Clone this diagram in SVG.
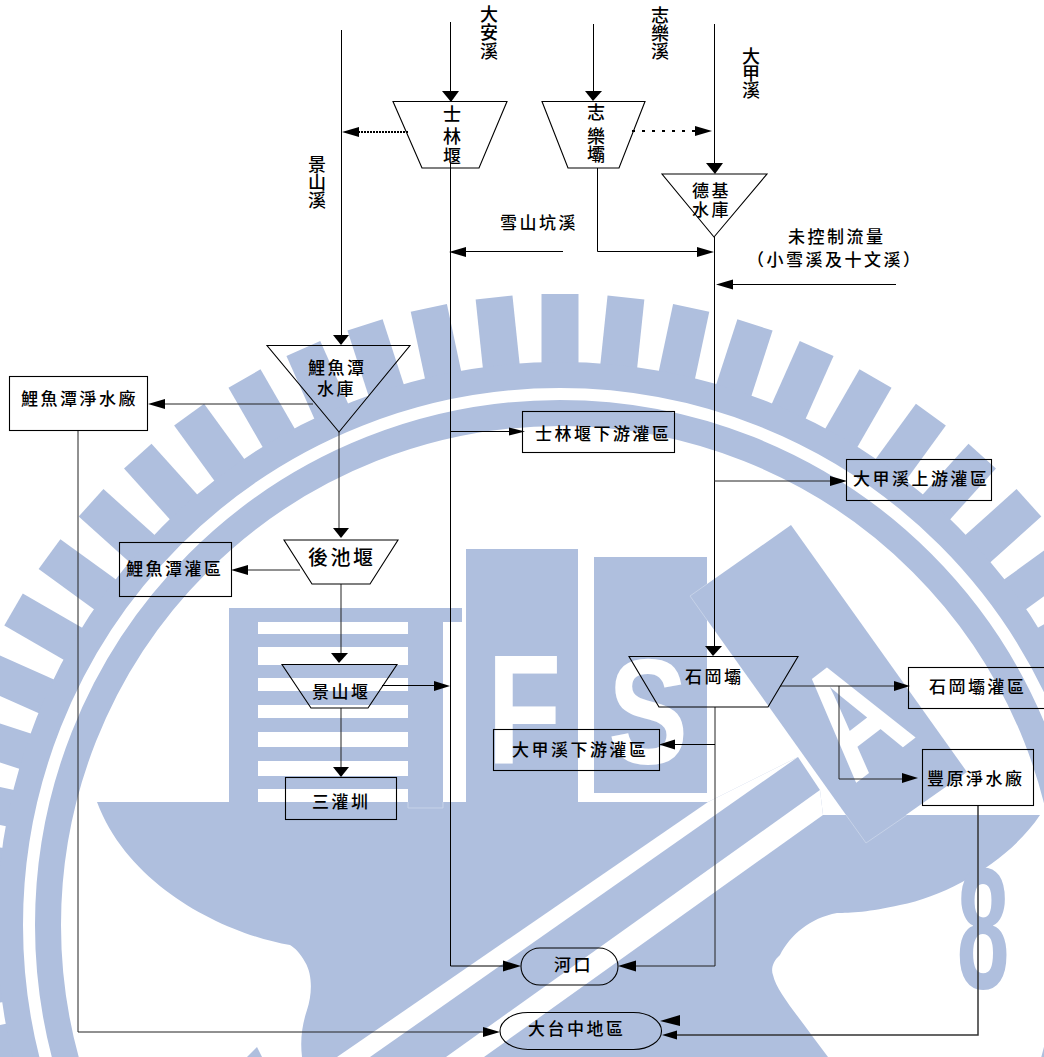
<svg xmlns="http://www.w3.org/2000/svg" width="1044" height="1057" viewBox="0 0 1044 1057">
<style>
.wm{fill:#afbfde}
.wt{fill:#fff}
.ln{fill:none;stroke:#000;stroke-width:1}
.gr{fill:none;stroke:#222;stroke-width:1}
.sh{fill:none;stroke:#000;stroke-width:1.1}
.ah{fill:#000;stroke:none}
.t{font-family:"Noto Sans CJK TC","Noto Sans CJK SC",sans-serif;font-size:17px;font-weight:500;letter-spacing:2.5px;fill:#000}
.v{font-family:"Noto Sans CJK TC","Noto Sans CJK SC",sans-serif;font-size:18px;font-weight:500;fill:#000}
.wl{font-family:"Liberation Sans",Arial,sans-serif;font-weight:700}
</style>
<rect width="1044" height="1057" fill="#fff"/>
<g id="watermark">
<g class="wm">
<rect id="tooth" x="541.5" y="294" width="37" height="70"/>
<rect x="541.5" y="294" width="37" height="70" transform="rotate(6 560 925)"/>
<rect x="541.5" y="294" width="37" height="70" transform="rotate(12 560 925)"/>
<rect x="541.5" y="294" width="37" height="70" transform="rotate(18 560 925)"/>
<rect x="541.5" y="294" width="37" height="70" transform="rotate(24 560 925)"/>
<rect x="541.5" y="294" width="37" height="70" transform="rotate(30 560 925)"/>
<rect x="541.5" y="294" width="37" height="70" transform="rotate(36 560 925)"/>
<rect x="541.5" y="294" width="37" height="70" transform="rotate(42 560 925)"/>
<rect x="541.5" y="294" width="37" height="70" transform="rotate(48 560 925)"/>
<rect x="541.5" y="294" width="37" height="70" transform="rotate(54 560 925)"/>
<rect x="541.5" y="294" width="37" height="70" transform="rotate(60 560 925)"/>
<rect x="541.5" y="294" width="37" height="70" transform="rotate(66 560 925)"/>
<rect x="541.5" y="294" width="37" height="70" transform="rotate(-6 560 925)"/>
<rect x="541.5" y="294" width="37" height="70" transform="rotate(-12 560 925)"/>
<rect x="541.5" y="294" width="37" height="70" transform="rotate(-18 560 925)"/>
<rect x="541.5" y="294" width="37" height="70" transform="rotate(-24 560 925)"/>
<rect x="541.5" y="294" width="37" height="70" transform="rotate(-30 560 925)"/>
<rect x="541.5" y="294" width="37" height="70" transform="rotate(-36 560 925)"/>
<rect x="541.5" y="294" width="37" height="70" transform="rotate(-42 560 925)"/>
<rect x="541.5" y="294" width="37" height="70" transform="rotate(-48 560 925)"/>
<rect x="541.5" y="294" width="37" height="70" transform="rotate(-54 560 925)"/>
<rect x="541.5" y="294" width="37" height="70" transform="rotate(-60 560 925)"/>
<rect x="541.5" y="294" width="37" height="70" transform="rotate(-66 560 925)"/>
<rect x="541.5" y="294" width="37" height="70" transform="rotate(-72 560 925)"/>
<rect x="541.5" y="294" width="37" height="70" transform="rotate(-78 560 925)"/>
<rect x="541.5" y="294" width="37" height="70" transform="rotate(-84 560 925)"/>
<rect x="541.5" y="294" width="37" height="70" transform="rotate(-90 560 925)"/>
<rect x="541.5" y="294" width="37" height="70" transform="rotate(-96 560 925)"/>
<rect x="541.5" y="294" width="37" height="70" transform="rotate(-102 560 925)"/>
<rect x="541.5" y="294" width="37" height="70" transform="rotate(-108 560 925)"/>
</g>
<circle cx="560" cy="925" r="531" fill="none" stroke="#afbfde" stroke-width="64"/>
<circle cx="560" cy="925" r="531" fill="none" stroke="#fff" stroke-width="12"/>
<g class="wm">
<rect x="229" y="608" width="233" height="14"/>
<rect x="229" y="608" width="29" height="194"/>
<rect x="408" y="622" width="35" height="186"/>
<rect x="258" y="634" width="150" height="13"/>
<rect x="258" y="665" width="150" height="13"/>
<rect x="258" y="691" width="150" height="14"/>
<rect x="258" y="718" width="150" height="14"/>
<rect x="258" y="747" width="150" height="14"/>
<rect x="258" y="776" width="150" height="13"/>
<rect x="466" y="549" width="112" height="253"/>
<rect x="594" y="557" width="113" height="236"/>
<polygon points="690,596 791,525 967,772 866,843"/>
<path d="M97,802 L708,802 L798,757 L820,790 L823,815 L1040,815 C1010,860 950,895 900,905 C870,912 850,913 837,913 C810,918 790,935 780,955 C772,962 771,970 773,975 C776,990 795,1012 813,1037 L828,1057 L302,1057 C300,1040 302,1025 307,1010 C312,995 313,975 305,962 C300,953 295,948 290,945 C230,935 130,890 97,802 Z"/>
<polygon points="247,1057 257,1047 262,1057"/>
</g>
<polygon class="wt" points="708,802 798,757 370,1057 337,1057"/>
<polygon class="wt" points="820,790 823,815 484,1057 446,1057"/>
<path d="M408,802V808H443V802M707,584L690,596L707,620M846,815L866,843L907,815" fill="none" stroke="#c6d2e8" stroke-width="1"/>
<text class="wl wt" font-size="156" transform="translate(487 763) scale(.78 1)">F</text>
<text class="wl wt" font-size="150" transform="translate(608 764) scale(.8 1)">S</text>
<text class="wl wt" font-size="159" text-anchor="middle" transform="translate(886 760) rotate(-37.4) scale(.7 1)">A</text>
<text class="wl wm" font-size="172" text-anchor="middle" transform="translate(983 988) scale(.55 1)">8</text>
</g>
<g id="connectors">
<path class="ln" d="M341.500,30V336"/><polygon class="ah" points="333,335 349,335 341,345"/>
<path class="ln" d="M450.500,22V92"/><polygon class="ah" points="442,91 459,91 451,102"/>
<path class="ln" d="M593.500,24V92"/><polygon class="ah" points="585,91 602,91 593,101"/>
<path class="ln" d="M714.500,24V164"/><polygon class="ah" points="706,163 723,163 715,174"/>
<path class="ln" d="M450.500,163V966H505"/><polygon class="ah" points="503,960.500 503,971.500 521,966"/>
<path class="ln" d="M714.500,237V648"/><polygon class="ah" points="705,646 722,646 713,656"/>
<path d="M358,132H409" fill="none" stroke="#000" stroke-width="2" stroke-dasharray="2 1"/><polygon class="ah" points="342,132 359,127 359,137"/>
<path d="M632,131H696" fill="none" stroke="#000" stroke-width="2" stroke-dasharray="3 7"/><polygon class="ah" points="712,131 695,126 695,136"/>
<path class="ln" d="M563,251.500H465"/><polygon class="ah" points="449,252 466,247 466,257"/>
<path class="ln" d="M597.500,168V251.500H698"/><polygon class="ah" points="714,252 697,247 697,257"/>
<path class="ln" d="M896,284.500H732"/><polygon class="ah" points="716,284.500 733,279.500 733,289.500"/>
<path class="ln" d="M451,431.500H512"/><polygon class="ah" points="525,431.500 509,427.500 509,435.500"/>
<path class="gr" d="M714,481H832"/><polygon class="ah" points="847,481 830,476 830,486"/>
<path class="gr" d="M313,404H163"/><polygon class="ah" points="148,404 165,399 165,409"/>
<path class="gr" d="M78,430V1032H485"/><polygon class="ah" points="500,1032 483,1027 483,1037"/>
<path class="gr" d="M339,432V530"/><polygon class="ah" points="333,528 349,528 341,538"/>
<path class="gr" d="M300,570H246"/><polygon class="ah" points="231,570 248,565 248,575"/>
<path class="gr" d="M341,584V654"/><polygon class="ah" points="331,653 348,653 339,663"/>
<path class="ln" d="M382,685.500H436"/><polygon class="ah" points="450,686 434,681 434,691"/>
<path class="gr" d="M341,708V768"/><polygon class="ah" points="333,767 349,767 341,777"/>
<path class="gr" d="M715,707V966H634"/><polygon class="ah" points="618,966 636,960.500 636,971.500"/>
<path class="ln" d="M715,744.500H673"/><polygon class="ah" points="659,744.500 675,739.500 675,749.500"/>
<path class="gr" d="M780,686H896"/><polygon class="ah" points="910,686 894,681 894,691"/>
<path class="gr" d="M839,686V779H904"/><polygon class="ah" points="918,778 902,773 902,783"/>
<path d="M978,805V1035H675" fill="none" stroke="#333" stroke-width="1.500"/><polygon class="ah" points="662,1035 677,1030.500 677,1039.500"/>
<polygon class="ah" points="660,1021 680,1015 680,1026"/>
</g>
<g id="n-daanxi"><text class="v" x="480 480 480" y="21 39 58">大安溪</text></g>
<g id="n-zhilexi"><text class="v" x="651 651 651" y="22 40 58">志樂溪</text></g>
<g id="n-dajiaxi"><text class="v" x="742 742 742" y="63 80 97">大甲溪</text></g>
<g id="n-jingshanxi"><text class="v" x="308 308 308" y="171 189 207">景山溪</text></g>
<g id="n-shilin"><polygon class="sh" points="393,101.500 507,101.500 479,168 422,168"/><text class="v" x="443 443 443" y="121 143 163">士林堰</text></g>
<g id="n-zhile"><polygon class="sh" points="542,101.500 645,101.500 619,168 568,168"/><text class="v" x="587 587 587" y="119 143 161">志樂壩</text></g>
<g id="n-deji"><polygon class="sh" points="662,174 767,174 714,237"/><text class="t" x="692" y="197">德基</text><text class="t" x="692" y="216">水庫</text></g>
<g id="n-xueshan"><text class="t" x="500" y="229">雪山坑溪</text></g>
<g id="n-uncontrolled"><text class="t" x="788" y="243">未控制流量</text><text class="t" x="747" y="266">（小雪溪及十文溪）</text></g>
<g id="n-liyutan"><polygon class="sh" points="267,345.500 410,345.500 339,432"/><text class="t" x="308" y="374">鯉魚潭</text><text class="t" x="317" y="395">水庫</text></g>
<g id="n-liyutan-wtp"><rect class="sh" x="9.500" y="376.500" width="138" height="54"/><text class="t" x="21" y="405">鯉魚潭淨水廠</text></g>
<g id="n-liyutan-irr"><rect class="sh" x="119.500" y="542.500" width="112" height="54"/><text class="t" x="126" y="575">鯉魚潭灌區</text></g>
<g id="n-houchi"><polygon class="sh" points="284,540 398,540 370,584 312,584"/><text class="t" x="308" y="565" style="font-size:20px">後池堰</text></g>
<g id="n-jingshan"><polygon class="sh" points="282,664.500 397,664.500 368,708 311,708"/><text class="t" x="312" y="698">景山堰</text></g>
<g id="n-sanguan"><rect class="sh" x="285.500" y="777.500" width="111" height="42"/><text class="t" x="312" y="808">三灌圳</text></g>
<g id="n-shilin-irr"><rect class="sh" x="522.500" y="411.500" width="152" height="41"/><text class="t" x="535" y="440">士林堰下游灌區</text></g>
<g id="n-dajia-up"><rect class="sh" x="846.500" y="459.500" width="145" height="41"/><text class="t" x="853" y="485">大甲溪上游灌區</text></g>
<g id="n-shigang"><polygon class="sh" points="629,656.500 798,656.500 768,707 659,707"/><text class="t" x="685" y="683">石岡壩</text></g>
<g id="n-shigang-irr"><rect class="sh" x="908.500" y="667.500" width="145" height="41"/><text class="t" x="929" y="693">石岡壩灌區</text></g>
<g id="n-dajia-down"><rect class="sh" x="493.500" y="729.500" width="166" height="41"/><text class="t" x="512" y="756">大甲溪下游灌區</text></g>
<g id="n-fengyuan"><rect class="sh" x="922.500" y="749.500" width="111" height="56"/><text class="t" x="927" y="785">豐原淨水廠</text></g>
<g id="n-hekou"><rect class="sh" x="521" y="948" width="97" height="37" rx="19" ry="18.500"/><text class="t" x="554" y="971">河口</text></g>
<g id="n-taichung"><rect class="sh" x="500" y="1012.500" width="161.500" height="37" rx="28" ry="18.500"/><text class="t" x="528" y="1035">大台中地區</text></g>
</svg>
